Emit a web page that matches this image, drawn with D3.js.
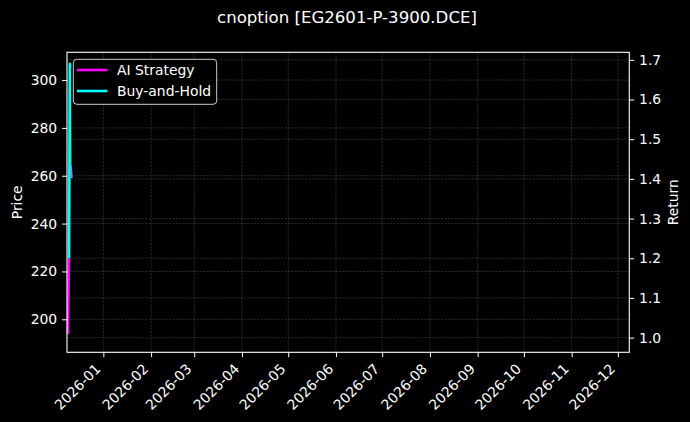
<!DOCTYPE html>
<html>
<head>
<meta charset="utf-8">
<script src="https://cdn.jsdelivr.net/npm/d3@7"></script>
<style>
  html, body { margin: 0; padding: 0; background: #000; }
  svg { display: block; font-family: "DejaVu Sans", sans-serif; }
</style>
</head>
<body>
<div id="chart"></div>
<script>
// == DATA ==
const TITLE = 'cnoption [EG2601-P-3900.DCE]';
const monthTicks = ['2026-01', '2026-02', '2026-03', '2026-04', '2026-05', '2026-06',
  '2026-07', '2026-08', '2026-09', '2026-10', '2026-11', '2026-12'];
const priceTicks = [200, 220, 240, 260, 280, 300];
const returnTicks = [1.0, 1.1, 1.2, 1.3, 1.4, 1.5, 1.6, 1.7];

// return axis series
const aiDates = ['2025-12-09T00:00', '2025-12-09T18:00'];
const aiReturn = [1.01, 1.20];
const bhDates = ['2025-12-09T18:00', '2025-12-10T06:00', '2025-12-10T12:00'];
const bhReturn = [1.20, 1.69, 1.68];

// price axis series
const priceDatesA = ['2025-12-10T12:00', '2025-12-11T00:00'];
const priceA = [305, 264];
const priceDatesB = ['2025-12-11T00:00', '2025-12-11T12:00'];
const priceB = [264, 259];

const legendLabels = ['AI Strategy', 'Buy-and-Hold'];

// == CONFIG ==
const W = 690, H = 422;
const PLOT = { left: 67, right: 629.3, top: 52.3, bottom: 352.3 };
const C_AI = '#ff00ff';
const C_BH = '#00ffff';
const C_PA = '#2fb86a';
const C_PB = '#8a7ff0';
const FS = 13.9;
const TICK = 4.9;

const parse = d3.utcParse('%Y-%m-%dT%H:%M');
const parseMonth = d3.utcParse('%Y-%m');

const svg = d3.select('#chart').append('svg')
  .attr('width', W).attr('height', H);

svg.append('rect').attr('width', W).attr('height', H).attr('fill', '#000');

// == SCALES ==
const x = d3.scaleUtc()
  .domain([new Date(Date.UTC(2025, 11, 8, 10)), new Date(Date.UTC(2026, 11, 8, 10))])
  .range([PLOT.left, PLOT.right]);
const yPrice = d3.scaleLinear().domain([186.2, 311.6]).range([PLOT.bottom, PLOT.top]);
const yRet = d3.scaleLinear().domain([0.963, 1.719]).range([PLOT.bottom, PLOT.top]);

const monthDates = monthTicks.map(parseMonth);

// == GRID ==
const grid = svg.append('g')
  .attr('stroke', '#fff')
  .attr('stroke-opacity', 0.27)
  .attr('stroke-width', 0.6)
  .attr('stroke-dasharray', '2.2,1.2');

grid.selectAll('line.gx').data(monthDates).enter().append('line')
  .attr('x1', d => x(d)).attr('x2', d => x(d))
  .attr('y1', PLOT.top).attr('y2', PLOT.bottom);
grid.selectAll('line.gp').data(priceTicks).enter().append('line')
  .attr('x1', PLOT.left).attr('x2', PLOT.right)
  .attr('y1', d => yPrice(d)).attr('y2', d => yPrice(d));
grid.selectAll('line.gr').data(returnTicks).enter().append('line')
  .attr('x1', PLOT.left).attr('x2', PLOT.right)
  .attr('y1', d => yRet(d)).attr('y2', d => yRet(d));

// == LINES ==
function drawSeries(dates, values, yScale, color, width) {
  const pts = dates.map((d, i) => [parse(d), values[i]]);
  svg.append('path')
    .datum(pts)
    .attr('fill', 'none')
    .attr('stroke', color)
    .attr('stroke-width', width)
    .attr('stroke-linejoin', 'round')
    .attr('d', d3.line().x(p => x(p[0])).y(p => yScale(p[1])));
}

drawSeries(priceDatesA, priceA, yPrice, C_PA, 1.5);
drawSeries(priceDatesB, priceB, yPrice, C_PB, 2);
drawSeries(aiDates, aiReturn, yRet, C_AI, 2.6);
drawSeries(bhDates, bhReturn, yRet, C_BH, 2.6);

// == AXES ==
function styleAxis(g) {
  g.select('.domain').remove();
  g.selectAll('.tick line').attr('stroke', '#fff').attr('stroke-width', 1);
  g.selectAll('.tick text').attr('fill', '#fff').attr('font-size', FS)
    .attr('font-family', '"DejaVu Sans", sans-serif');
}

const gx = svg.append('g')
  .attr('transform', `translate(0,${PLOT.bottom})`)
  .call(d3.axisBottom(x).tickValues(monthDates).tickFormat(d3.utcFormat('%Y-%m'))
    .tickSize(TICK).tickPadding(4.9));
styleAxis(gx);
gx.selectAll('.tick text')
  .attr('text-anchor', 'end')
  .attr('dy', null)
  .attr('y', null)
  .attr('transform', 'translate(-2.3,17.5) rotate(-45)');

const gl = svg.append('g')
  .attr('transform', `translate(${PLOT.left},0)`)
  .call(d3.axisLeft(yPrice).tickValues(priceTicks).tickSize(TICK).tickPadding(4.9));
styleAxis(gl);

const gr = svg.append('g')
  .attr('transform', `translate(${PLOT.right},0)`)
  .call(d3.axisRight(yRet).tickValues(returnTicks).tickFormat(d3.format('.1f'))
    .tickSize(TICK).tickPadding(4.9));
styleAxis(gr);

// spines
svg.append('rect')
  .attr('x', PLOT.left).attr('y', PLOT.top)
  .attr('width', PLOT.right - PLOT.left).attr('height', PLOT.bottom - PLOT.top)
  .attr('fill', 'none').attr('stroke', '#fff').attr('stroke-width', 1.1);

// == LABELS ==
svg.append('text')
  .attr('x', 347).attr('y', 23)
  .attr('text-anchor', 'middle')
  .attr('fill', '#fff').attr('font-size', 16.6)
  .text(TITLE);

svg.append('text')
  .attr('transform', `translate(21.5,${(PLOT.top + PLOT.bottom) / 2}) rotate(-90)`)
  .attr('text-anchor', 'middle')
  .attr('fill', '#fff').attr('font-size', FS)
  .text('Price');

svg.append('text')
  .attr('transform', `translate(678,${(PLOT.top + PLOT.bottom) / 2}) rotate(-90)`)
  .attr('text-anchor', 'middle')
  .attr('fill', '#fff').attr('font-size', FS)
  .text('Return');

// == LEGEND ==
const lg = svg.append('g');
lg.append('rect')
  .attr('x', 73.3).attr('y', 59.3)
  .attr('width', 143.4).attr('height', 45)
  .attr('rx', 3.5).attr('ry', 3.5)
  .attr('fill', '#000').attr('fill-opacity', 0.8)
  .attr('stroke', '#fff').attr('stroke-opacity', 0.8).attr('stroke-width', 1);

const legendColors = [C_AI, C_BH];
const legendRows = lg.selectAll('g.row').data(legendLabels).enter().append('g')
  .attr('transform', (d, i) => `translate(0,${70 + i * 21})`);
legendRows.append('line')
  .attr('x1', 77).attr('x2', 107.5).attr('y1', 0).attr('y2', 0)
  .attr('stroke', (d, i) => legendColors[i]).attr('stroke-width', 2.6);
legendRows.append('text')
  .attr('x', 117).attr('y', 0).attr('dy', '0.35em')
  .attr('fill', '#fff').attr('font-size', FS)
  .text(d => d);
</script>
</body>
</html>
